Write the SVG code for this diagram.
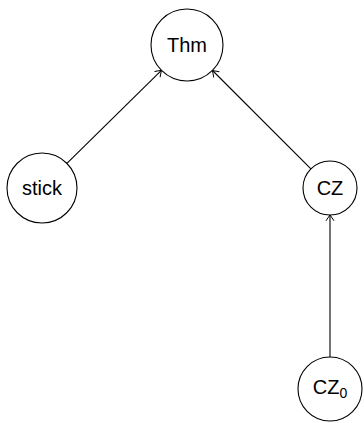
<svg xmlns="http://www.w3.org/2000/svg" width="364" height="423" viewBox="0 0 364 423">
  <style>
    .node circle { fill: #ffffff; stroke: #000000; stroke-width: 1.1; }
    .node text { font-family: "Liberation Sans", "DejaVu Sans", sans-serif; font-size: 20px; fill: #000000; text-anchor: middle; }
    .node text .sub { font-size: 14px; }
    .edges line { stroke: #000000; stroke-width: 1.1; fill: none; }
  </style>
  <defs>
    <marker id="tip" viewBox="-7 -5 9 10" refX="0" refY="0" markerWidth="9" markerHeight="10" markerUnits="userSpaceOnUse" orient="auto">
      <path d="M -5.5,-3.8 Q -1.2,-0.9 0,0 Q -1.2,0.9 -5.5,3.8" fill="none" stroke="#000000" stroke-width="1" stroke-linecap="round"/>
    </marker>
  </defs>
  <rect width="364" height="423" fill="#ffffff"/>

  <!-- connectors: child to parent -->
  <g class="edges">
    <line x1="66.9" y1="163.4" x2="161.4" y2="70.3" marker-end="url(#tip)"/>
    <line x1="310.9" y1="168.9" x2="212.5" y2="70.5" marker-end="url(#tip)"/>
    <line x1="330" y1="357" x2="330" y2="215" marker-end="url(#tip)"/>
  </g>

  <g id="thm" class="node">
    <circle cx="187" cy="45" r="36"/>
    <text x="187" y="52">Thm</text>
  </g>
  <g id="stick" class="node">
    <circle cx="42" cy="188" r="35"/>
    <text x="42" y="195">stick</text>
  </g>
  <g id="cz" class="node">
    <circle cx="330" cy="188" r="27"/>
    <text x="330" y="195">CZ</text>
  </g>
  <g id="cz0" class="node">
    <circle cx="330" cy="389" r="32"/>
    <text x="330" y="394">CZ<tspan class="sub" dy="4">0</tspan></text>
  </g>
</svg>
